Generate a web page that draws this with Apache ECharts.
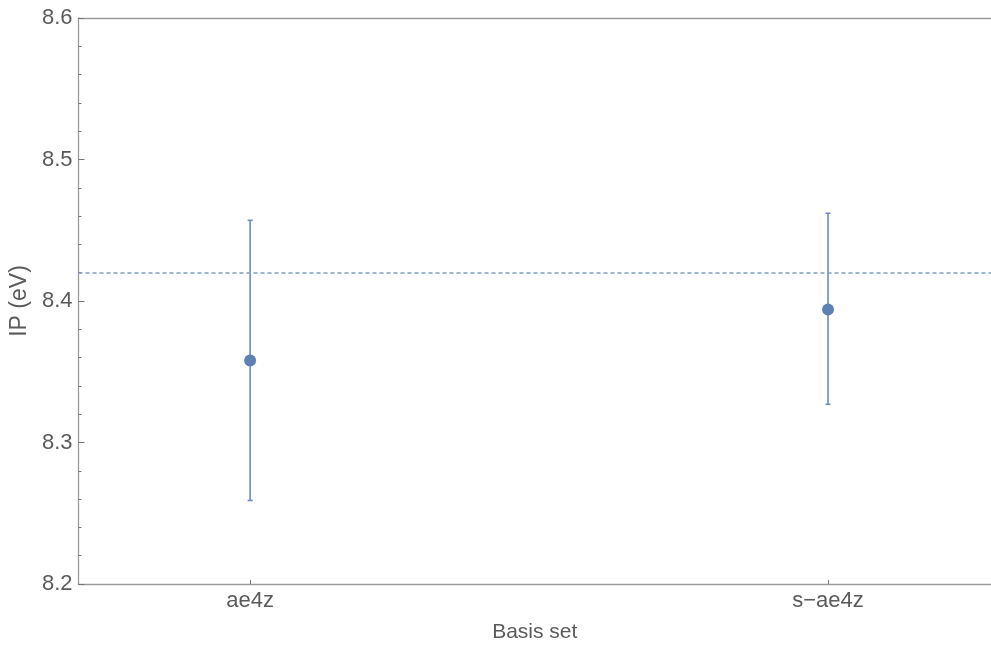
<!DOCTYPE html>
<html>
<head>
<meta charset="utf-8">
<title>IP (eV) by basis set</title>
<script src="https://cdn.jsdelivr.net/npm/echarts@6/dist/echarts.min.js"></script>
<style>
  html, body { margin: 0; padding: 0; background: #fff; overflow: hidden; }
  #chart { width: 991px; height: 648px; }
</style>
</head>
<body>
<div id="chart"></div>
<script>
// Basis sets and their x positions
const basisSets = ['ae4z', 's\u2212ae4z'];
const positions = [1, 2];
// Ionization potential estimates (eV) and error-bar bounds
const ipValues = [8.358, 8.394];
const ipLower = [8.259, 8.327];
const ipUpper = [8.457, 8.462];
// Reference value shown as the dashed line
const referenceIP = 8.418;
// Y tick values
const yTicks = [8.2, 8.3, 8.4, 8.5, 8.6];

const FONT = 'Liberation Sans, Arial, sans-serif';
const TEXT = '#5b5b5b';
const AXIS = '#9a9a9a';
const POINT = '#5e81b5';
const BAR = '#6c8cc0';

const chart = echarts.init(document.getElementById('chart'), null, { renderer: 'canvas', width: 991, height: 648 });

const pointData = positions.map((p, i) => [p, ipValues[i]]);
const barData = positions.map((p, i) => [p, ipLower[i], ipUpper[i]]);

const xMin = 0.703, xMax = 2.282;

chart.setOption({
  animation: false,
  backgroundColor: '#ffffff',
  grid: { left: 78, width: 913, top: 18, height: 571, containLabel: false },
  xAxis: [
    {
      type: 'value',
      min: xMin, max: xMax,
      name: 'Basis set',
      nameLocation: 'middle',
      nameGap: 38,
      nameTextStyle: { color: TEXT, fontFamily: FONT, fontSize: 21 },
      axisLine: { show: true, lineStyle: { color: AXIS, width: 1.3 } },
      axisTick: { show: true, inside: true, length: 4, customValues: positions, lineStyle: { color: '#777' } },
      axisLabel: {
        customValues: positions,
        color: TEXT, fontFamily: FONT, fontSize: 22, margin: 6,
        formatter: v => basisSets[positions.indexOf(Math.round(v))] || ''
      },
      splitLine: { show: false }
    },
    {
      type: 'value',
      position: 'top',
      min: xMin, max: xMax,
      axisLine: { show: true, lineStyle: { color: AXIS, width: 1.3 } },
      axisTick: { show: false },
      axisLabel: { show: false },
      splitLine: { show: false }
    }
  ],
  yAxis: {
    type: 'value',
    min: yTicks[0], max: yTicks[yTicks.length - 1], interval: 0.1,
    name: 'IP (eV)',
    nameLocation: 'middle',
    nameGap: 46,
    nameTextStyle: { color: TEXT, fontFamily: FONT, fontSize: 23 },
    axisLine: { show: true, lineStyle: { color: AXIS, width: 1.3 } },
    axisTick: { show: true, inside: true, length: 6, lineStyle: { color: '#777' } },
    minorTick: { show: true, splitNumber: 5, length: 3, lineStyle: { color: '#777' } },
    axisLabel: {
      color: TEXT, fontFamily: FONT, fontSize: 22, margin: 6,
      formatter: v => v.toFixed(1)
    },
    splitLine: { show: false }
  },
  series: [
    {
      type: 'custom',
      name: 'error',
      xAxisIndex: 0,
      data: barData,
      encode: { x: 0, y: [1, 2] },
      z: 2,
      renderItem: (params, api) => {
        const x = api.value(0);
        const lo = api.coord([x, api.value(1)]);
        const hi = api.coord([x, api.value(2)]);
        const cap = 2.5;
        const style = { stroke: BAR, lineWidth: 1.6 };
        return {
          type: 'group',
          children: [
            { type: 'line', shape: { x1: lo[0], y1: lo[1], x2: hi[0], y2: hi[1] }, style },
            { type: 'line', shape: { x1: lo[0] - cap, y1: lo[1], x2: lo[0] + cap, y2: lo[1] }, style },
            { type: 'line', shape: { x1: hi[0] - cap, y1: hi[1], x2: hi[0] + cap, y2: hi[1] }, style }
          ]
        };
      }
    },
    {
      type: 'scatter',
      name: 'IP',
      xAxisIndex: 0,
      data: pointData,
      symbol: 'circle',
      symbolSize: 12,
      itemStyle: { color: POINT, opacity: 1 },
      z: 3,
      markLine: {
        silent: true,
        symbol: ['none', 'none'],
        label: { show: false },
        lineStyle: { color: '#7f9dc6', width: 1.6, type: [4, 3] },
        data: [{ yAxis: referenceIP }]
      }
    }
  ]
});
</script>
</body>
</html>
